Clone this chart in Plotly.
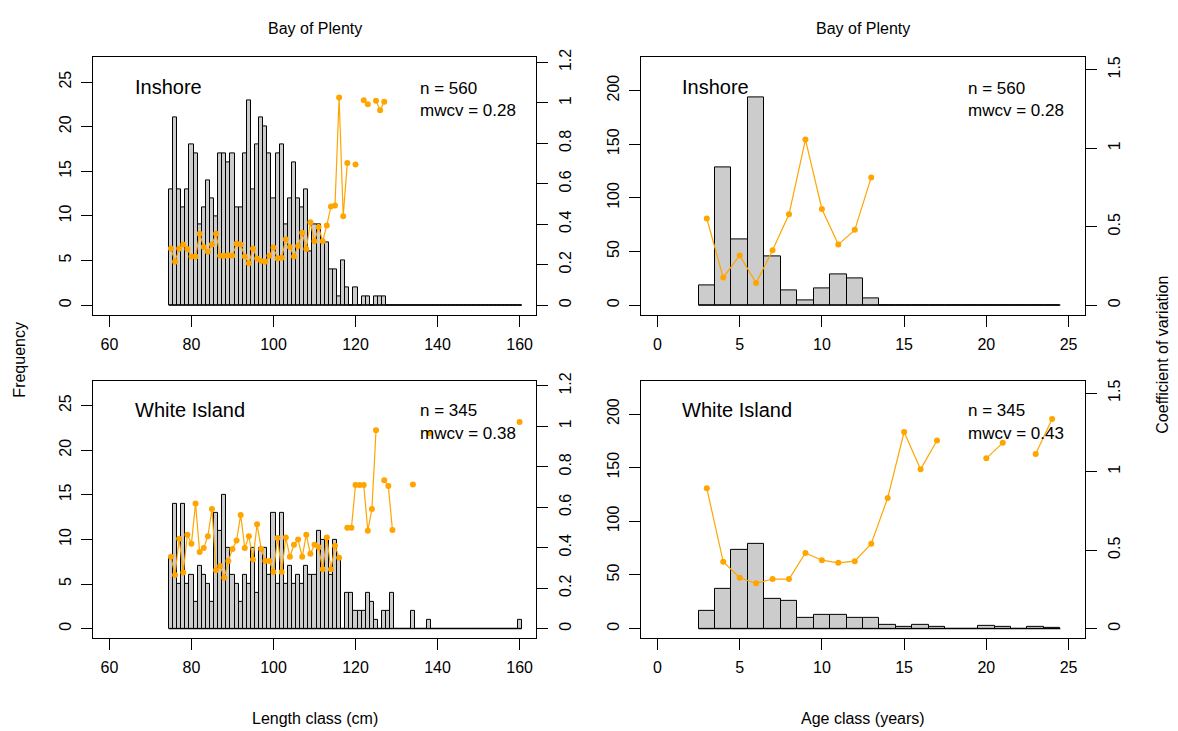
import plotly.graph_objects as go

W, H = 1178, 731

# ---------------- DATA ----------------
length_classes = list(range(75, 161))
inshore_len_freq = [13, 21, 13, 11, 13, 18, 17, 9, 11, 14,
                    12, 10, 17, 17, 16, 17, 11, 11, 17, 23,
                    13, 18, 21, 20, 17, 12, 17, 18, 9, 12,
                    16, 12, 11, 13, 6, 9, 9, 7, 7, 4,
                    4, 1, 5, 2, 0, 2, 0, 1, 1, 0,
                    1, 1, 1] + [0] * 33
inshore_len_cv = [0.28, 0.215, 0.28, 0.30, 0.277, 0.24, 0.24, 0.353, 0.288, 0.264,
                  0.30, 0.353, 0.244, 0.244, 0.247, 0.244, 0.304, 0.30, 0.24, 0.207,
                  0.28, 0.231, 0.218, 0.215, 0.244, 0.285, 0.231, 0.234, 0.326, 0.288,
                  0.24, 0.293, 0.358, 0.277, 0.41, 0.316, 0.386, 0.316, 0.394, 0.488,
                  0.492, 1.026, 0.44, 0.703, None, 0.695, None, 1.013, 0.993, None,
                  1.01, 0.964, 1.005] + [None] * 33

white_len_freq = [8, 14, 5, 14, 5, 6, 3, 7, 6, 5,
                  3, 13, 11, 15, 9, 6, 5, 3, 6, 5,
                  9, 4, 9, 9, 6, 13, 5, 13, 5, 7,
                  5, 6, 5, 7, 6, 6, 11, 10, 10, 6,
                  10, 8, 0, 4, 4, 2, 2, 2, 4, 3,
                  1, 0, 2, 2, 4, 0, 0, 0, 0, 2,
                  0, 0, 0, 1] + [0] * 21 + [1]
white_len_cv = [0.355, 0.265, 0.444, 0.277, 0.464, 0.42, 0.619, 0.379, 0.399, 0.456,
                0.591, 0.288, 0.309, 0.252, 0.334, 0.394, 0.435, 0.562, 0.399, 0.456,
                0.342, 0.516, 0.394, 0.334, 0.334, 0.28, 0.448, 0.28, 0.451, 0.355,
                0.415, 0.44, 0.355, 0.464, 0.37, 0.415, 0.402, 0.293, 0.451, 0.293,
                0.41, 0.35, None, 0.498, 0.498, 0.71, 0.71, 0.71, 0.484, 0.591,
                0.98, None, 0.733, 0.705, 0.487, None, None, None, None, 0.712,
                None, None, None, 0.966] + [None] * 21 + [1.021]

age_classes = list(range(3, 25))
inshore_age_freq = [18.5, 128.8, 61, 193.8, 45.6, 13.6, 4.3, 16, 29, 25.3, 5.9,
                    0, 0, 0, 0, 0, 0, 0, 0, 0, 0, 0]
inshore_age_cv = [0.552, 0.176, 0.317, 0.141, 0.35, 0.579, 1.055, 0.613, 0.386, 0.48, 0.814,
                  None, None, None, None, None, None, None, None, None, None, None]
white_age_freq = [16.6, 36.9, 73.8, 79, 27.7, 25.5, 9.8, 12.6, 12.6, 9.8, 9.8,
                  3.7, 1.2, 3.7, 1.2, 0, 0, 2.5, 1.2, 0, 1.2, 0.3]
white_age_cv = [0.895, 0.426, 0.324, 0.289, 0.316, 0.316, 0.482, 0.436, 0.419, 0.43, 0.541,
                0.832, 1.253, 1.015, 1.199, None, None, 1.085, 1.184, None, 1.112, 1.336]

panel_labels = ["Inshore", "Inshore", "White Island", "White Island"]
n_labels = ["n = 560", "n = 560", "n = 345", "n = 345"]
mwcv_labels = ["mwcv = 0.28", "mwcv = 0.28", "mwcv = 0.38", "mwcv = 0.43"]

len_ticks = [60, 80, 100, 120, 140, 160]
age_ticks = [0, 5, 10, 15, 20, 25]
len_freq_ticks = [0, 5, 10, 15, 20, 25]
age_freq_ticks = [0, 50, 100, 150, 200]
len_cv_ticks = [0, 0.2, 0.4, 0.6, 0.8, 1, 1.2]
len_cv_text = ["0", "0.2", "0.4", "0.6", "0.8", "1", "1.2"]
age_cv_ticks = [0, 0.5, 1, 1.5]
age_cv_text = ["0", "0.5", "1", "1.5"]

# ---------------- LAYOUT ----------------
FONT = "Liberation Sans, Arial, sans-serif"
TICKF = 16
BAR_FILL = "#CCCCCC"
ORANGE = "#FFA500"


def px(x):
    return x / W


def py(y):
    return 1 - y / H


col_x = [(93, 536), (641, 1085)]
row_y = [(49, 309.5), (376.5, 637)]

fig = go.Figure()

panels = [
    (0, 0, length_classes, inshore_len_freq, inshore_len_cv),
    (0, 1, age_classes, inshore_age_freq, inshore_age_cv),
    (1, 0, length_classes, white_len_freq, white_len_cv),
    (1, 1, age_classes, white_age_freq, white_age_cv),
]

layout = dict(
    width=W, height=H, margin=dict(l=0, r=0, t=0, b=0),
    paper_bgcolor="white", plot_bgcolor="white", showlegend=False,
    font=dict(family=FONT, size=TICKF, color="black"),
)

annotations = []
for i, (r, c, xs, freq, cv) in enumerate(panels):
    k = i + 1
    xa = f"xaxis{'' if k == 1 else k}"
    ya = f"yaxis{'' if k == 1 else k}"
    ya2n = k + 4
    ya2 = f"yaxis{ya2n}"
    xr = f"x{'' if k == 1 else k}"
    yr = f"y{'' if k == 1 else k}"
    y2r = f"y{ya2n}"
    x0, x1 = col_x[c]
    y0, y1 = row_y[r]

    if c == 0:
        xrange = [56, 164]
        ymax = 26.7
        cvmax = 1.1775
        xt, yt = len_ticks, len_freq_ticks
        cvt, cvtt = len_cv_ticks, len_cv_text
    else:
        xrange = [-1, 26]
        ymax = 222
        cvmax = 1.518
        xt, yt = age_ticks, age_freq_ticks
        cvt, cvtt = age_cv_ticks, age_cv_text

    fig.add_trace(go.Bar(
        x=xs, y=freq, width=1, xaxis=xr, yaxis=yr,
        marker=dict(color=BAR_FILL, line=dict(color="black", width=1)),
        hoverinfo="skip",
    ))
    fig.add_trace(go.Scatter(
        x=[xs[0] - 0.5, xs[-1] + 0.5], y=[0, 0], mode="lines",
        line=dict(color="black", width=1.3), xaxis=xr, yaxis=yr, hoverinfo="skip",
    ))
    fig.add_trace(go.Scatter(
        x=xs, y=cv, mode="lines+markers", connectgaps=False,
        line=dict(color=ORANGE, width=1.2),
        marker=dict(color=ORANGE, size=6),
        xaxis=xr, yaxis=y2r, hoverinfo="skip",
    ))

    tick_common = dict(ticks="outside", ticklen=11, tickwidth=1, tickcolor="black",
                       showgrid=False, zeroline=False,
                       tickfont=dict(family=FONT, size=TICKF, color="black"))
    layout[xa] = dict(domain=[px(x0), px(x1)], anchor=yr, range=xrange,
                      tickvals=xt, showline=True, mirror=True, linecolor="black",
                      linewidth=1, ticklabelstandoff=4, **tick_common)
    layout[ya] = dict(domain=[py(y1), py(y0)], anchor=xr,
                      range=[-0.04 * ymax, 1.04 * ymax], tickvals=yt,
                      tickangle=-90, showline=True, mirror=True, linecolor="black",
                      linewidth=1, ticklabelstandoff=4, **tick_common)
    layout[ya2] = dict(overlaying=yr, side="right", anchor=xr,
                       range=[-0.04 * cvmax, 1.04 * cvmax], tickvals=cvt,
                       ticktext=cvtt, tickangle=-90, showline=False,
                       ticklabelstandoff=4, **tick_common)

    # panel texts
    tx = 133 if c == 0 else 680
    nx = 418 if c == 0 else 966
    top = 79 if r == 0 else 405.5
    annotations.append(dict(text=panel_labels[i], x=px(tx), y=py(top), xref="paper",
                            yref="paper", xanchor="left", yanchor="middle",
                            showarrow=False, font=dict(family=FONT, size=20)))
    annotations.append(dict(text=n_labels[i], x=px(nx), y=py(top + 1), xref="paper",
                            yref="paper", xanchor="left", yanchor="middle",
                            showarrow=False, font=dict(family=FONT, size=17)))
    annotations.append(dict(text=mwcv_labels[i], x=px(nx), y=py(top + 24), xref="paper",
                            yref="paper", xanchor="left", yanchor="middle",
                            showarrow=False, font=dict(family=FONT, size=17)))

for cx, title, xl in [(314.5, "Bay of Plenty", "Length class (cm)"),
                      (863, "Bay of Plenty", "Age class (years)")]:
    annotations.append(dict(text=title, x=px(cx), y=py(20), xref="paper", yref="paper",
                            xanchor="center", yanchor="middle", showarrow=False,
                            font=dict(family=FONT, size=16)))
    annotations.append(dict(text=xl, x=px(cx), y=py(718), xref="paper", yref="paper",
                            xanchor="center", yanchor="middle", showarrow=False,
                            font=dict(family=FONT, size=16)))

annotations.append(dict(text="Frequency", x=px(20), y=py(355), xref="paper", yref="paper",
                        xanchor="center", yanchor="middle", showarrow=False, textangle=-90,
                        font=dict(family=FONT, size=16)))
annotations.append(dict(text="Coefficient of variation", x=px(1163), y=py(350),
                        xref="paper", yref="paper", xanchor="center", yanchor="middle",
                        showarrow=False, textangle=-90, font=dict(family=FONT, size=16)))

layout["annotations"] = annotations
layout["bargap"] = 0
fig.update_layout(**layout)

fig.write_html("out.html")
